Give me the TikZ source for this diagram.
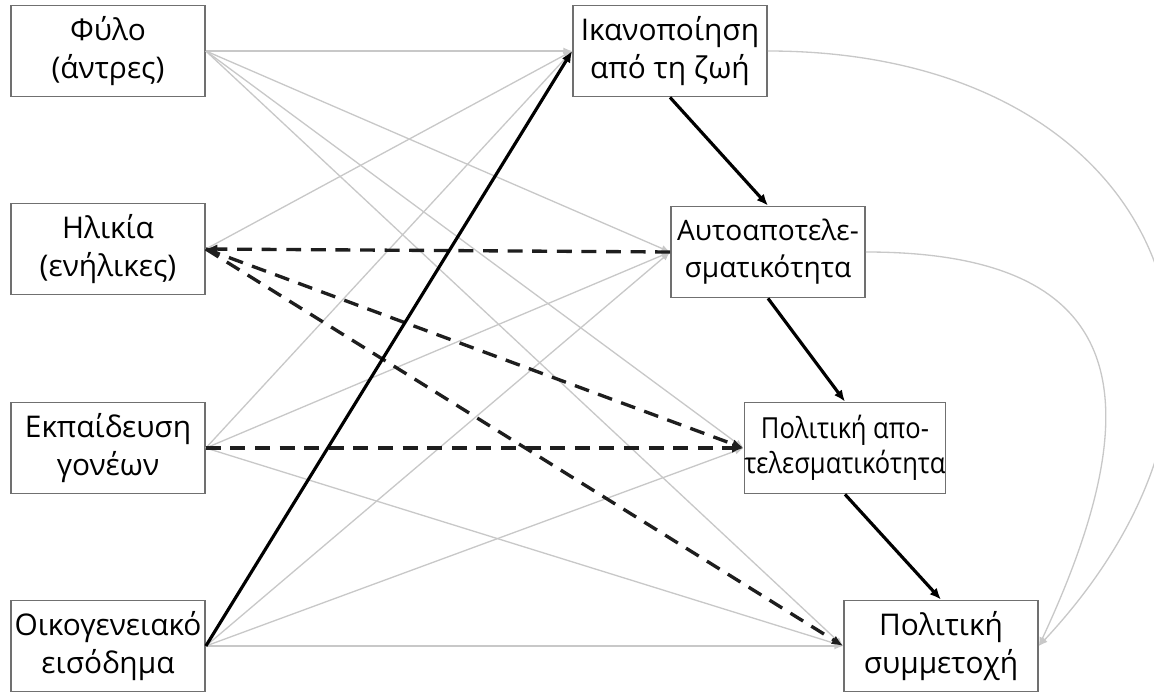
\documentclass[tikz,border=0pt]{standalone}
\usepackage{fontspec}
\usepackage{graphicx}
\setmainfont{Open Sans}
\usetikzlibrary{arrows.meta,positioning}
\definecolor{boxgray}{RGB}{112,112,112}
\definecolor{linegray}{RGB}{200,200,200}
\definecolor{dashblack}{RGB}{30,30,30}
\tikzstyle{var} = [rectangle, draw=boxgray, line width=1pt, minimum width=3.88cm, minimum height=1.82cm, inner sep=0pt, align=center, fill=white, font=\fontsize{17}{22}\selectfont]
\tikzstyle{weak} = [linegray, line width=0.75pt, -{Latex[length=5pt,width=4pt]}]
\tikzstyle{negarrow} = [dashblack, line width=1.9pt, dash pattern=on 8.5pt off 5.5pt, -{Latex[length=6.5pt,width=5.5pt]}]
\tikzstyle{posarrow} = [black, line width=1.8pt, -{Latex[length=6.5pt,width=5.5pt]}]

\begin{document}
\begin{tikzpicture}[x=0.02cm, y=-0.02cm]
    \useasboundingbox (0,0) rectangle (1154,693);
    % predictors
    \node (sex) [var] at (108,51) {Φύλο\\(άντρες)};
    \node (age) [var] at (108,249) {Ηλικία\\(ενήλικες)};
    \node (edu) [var] at (108,448) {Εκπαίδευση\\γονέων};
    \node (inc) [var] at (108,646) {Οικογενειακό\\εισόδημα};
    % mediators and outcome
    \node (life) [var] at (670,51) {Ικανοποίηση\\από τη ζωή};
    \node (self) [var, font=\fontsize{16}{21}\selectfont] at (768,252) {Αυτοαποτελε-\\σματικότητα};
    \node (poleff) [var, font=\fontsize{16.5}{20}\selectfont] at (845,448)
        {\scalebox{0.88}[1]{Πολιτική απο-}\\\scalebox{0.88}[1]{τελεσματικότητα}};
    \node (part) [var] at (941,646) {Πολιτική\\συμμετοχή};
    % non-significant paths
    \foreach \from in {sex,edu,inc} {
        \draw [weak] (\from.east) -- (life.west);
    }
    \foreach \from in {sex,edu,inc} {
        \draw [weak] (\from.east) -- (self.west);
    }
    \foreach \from in {sex,inc} {
        \draw [weak] (\from.east) -- (poleff.west);
    }
    \foreach \from in {sex,edu,inc} {
        \draw [weak] (\from.east) -- (part.west);
    }
    \draw [weak] (age.east) -- (life.west);
    \draw [weak] (life.east) to[out=0, in=47, looseness=1.5] (part.east);
    \draw [weak] (self.east) to[out=0, in=65, looseness=1.6] (part.east);
    % negative paths
    \draw [negarrow] (self.west) -- (age.east);
    \draw [negarrow] (age.east) -- (poleff.west);
    \draw [negarrow] (age.east) -- (part.west);
    \draw [negarrow] (edu.east) -- (poleff.west);
    % positive paths
    \draw [posarrow] (inc.east) -- (life.west);
    \draw [posarrow] (life.south) -- (self.north);
    \draw [posarrow] (self.south) -- (poleff.north);
    \draw [posarrow] (poleff.south) -- (part.north);
\end{tikzpicture}
\end{document}
